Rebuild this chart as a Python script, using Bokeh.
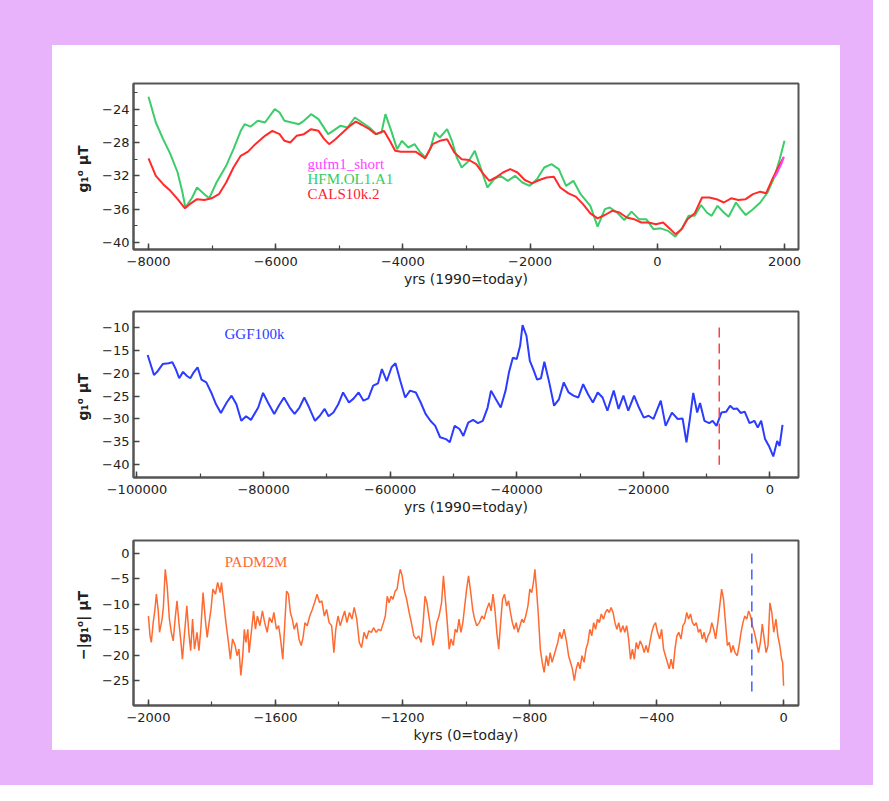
from bokeh.plotting import figure
from bokeh.models import Range1d, SingleIntervalTicker, CustomJSTickFormatter, Spacer, ColumnDataSource
from bokeh.layouts import column, row
from bokeh.embed import file_html
from bokeh.resources import INLINE
from bokeh.core.properties import value

# ---------------- data: panel 1 (years, g1^0 in microtesla) ----------------
hfm_year = [-8000, -7885, -7770, -7656, -7542, -7466, -7420, -7313, -7237, -7122, -7046, -6931, -6779, -6664,
            -6550, -6489, -6397, -6282, -6168, -6015, -5939, -5863, -5748, -5634, -5557, -5443, -5328, -5176,
            -5099, -4985, -4870, -4756, -4641, -4527, -4412, -4336, -4275, -4183, -4092, -4015, -3916, -3817,
            -3725, -3649, -3572, -3496, -3420, -3305, -3229, -3153, -3076, -2962, -2870, -2771, -2672, -2565,
            -2465, -2351, -2237, -2122, -2007, -1893, -1778, -1664, -1549, -1435, -1320, -1206, -1053, -939,
            -824, -748, -633, -519, -405, -290, -175, -61, 54, 168, 283, 397, 489, 588, 688, 779, 855, 947,
            1046, 1122, 1237, 1313, 1390, 1504, 1619, 1733, 1848, 1924, 2000]
hfm_g10 = [-22.5, -25.6, -27.6, -29.4, -31.6, -34.0, -35.8, -34.6, -33.4, -34.2, -34.7, -32.8, -30.8, -28.8,
           -26.6, -25.8, -26.1, -25.4, -25.6, -24.0, -24.4, -25.4, -25.6, -25.8, -25.4, -24.6, -25.2, -27.0,
           -26.6, -26.0, -26.2, -25.0, -25.6, -26.2, -27.0, -26.8, -24.6, -26.6, -28.8, -27.8, -28.6, -28.2,
           -29.2, -29.8, -28.8, -26.8, -27.4, -26.4, -27.8, -29.8, -31.0, -30.2, -29.0, -31.2, -33.4, -32.4,
           -32.0, -32.6, -32.0, -32.8, -33.2, -32.4, -31.0, -30.6, -31.2, -33.2, -32.6, -34.2, -35.6, -38.1,
           -36.0, -35.8, -36.4, -37.3, -36.3, -37.2, -37.2, -38.4, -38.3, -38.6, -39.3, -38.2, -36.8, -36.8,
           -35.5, -36.4, -36.8, -35.6, -36.4, -36.9, -35.2, -36.0, -36.7, -36.0, -35.2, -34.0, -32.0, -30.0,
           -27.8]

cals_year = [-8000, -7885, -7770, -7656, -7542, -7427, -7351, -7237, -7122, -7008, -6893, -6779, -6664, -6550,
             -6435, -6321, -6168, -6053, -5939, -5863, -5771, -5672, -5557, -5443, -5328, -5237, -5160, -5061,
             -4947, -4832, -4740, -4641, -4527, -4427, -4298, -4206, -4122, -4030, -3916, -3801, -3649, -3534,
             -3420, -3305, -3191, -3076, -2962, -2847, -2733, -2641, -2542, -2427, -2313, -2198, -2084, -1969,
             -1855, -1740, -1626, -1527, -1397, -1282, -1168, -1053, -939, -824, -710, -595, -481, -366, -252,
             -137, -23, 92, 206, 283, 382, 474, 588, 703, 817, 932, 1046, 1161, 1275, 1390, 1504, 1619, 1710,
             1809, 1886, 1985]
cals_g10 = [-29.9, -32.0, -33.0, -33.8, -34.8, -35.9, -35.4, -34.8, -34.9, -34.7, -34.2, -32.8, -31.0, -29.6,
            -29.1, -28.2, -27.2, -26.6, -27.0, -27.8, -28.0, -27.2, -27.0, -26.4, -26.6, -27.6, -28.2, -27.6,
            -26.8, -26.0, -25.5, -25.9, -26.4, -27.0, -26.6, -27.8, -29.0, -29.1, -29.1, -29.1, -29.9, -28.2,
            -27.8, -27.6, -29.2, -30.0, -30.1, -30.6, -31.8, -32.6, -32.2, -31.6, -31.2, -31.6, -32.5, -32.9,
            -32.5, -32.2, -32.1, -33.4, -34.1, -34.5, -35.4, -36.5, -37.1, -36.7, -36.2, -36.4, -37.0, -37.2,
            -37.6, -37.6, -37.8, -37.6, -38.4, -39.0, -38.4, -37.2, -36.5, -34.6, -34.6, -34.8, -35.2, -34.7,
            -34.9, -34.8, -34.2, -33.9, -34.1, -32.4, -31.2, -29.8]

gufm_year = [1840, 1880, 1910, 1950, 1990]
gufm_g10 = [-32.2, -31.7, -31.2, -30.6, -29.7]

# ---------------- data: panel 2 (GGF100k) ----------------
ggf_year = [-98314, -97700, -97318, -96700, -95939, -95019, -94406, -93870, -93333, -92720, -92107, -91571,
            -91034, -90421, -89808, -89042, -88276, -87510, -86743, -85824, -85057, -84291, -83525, -82759,
            -81992, -80843, -80077, -79310, -78314, -77548, -76782, -75862, -75096, -74330, -73563, -72797,
            -71877, -71111, -70345, -69732, -68966, -68199, -67433, -66513, -65747, -64981, -64215, -63448,
            -62682, -61916, -61303, -60536, -59770, -59157, -58390, -57624, -56858, -55939, -55172, -54406,
            -53640, -52874, -52107, -51188, -50575, -49809, -49042, -48429, -47663, -46897, -46130, -45364,
            -44598, -44061, -43295, -42529, -41762, -41226, -40613, -40000, -39464, -39081, -38467, -37931,
            -37395, -36782, -36169, -35633, -34866, -34100, -33334, -32567, -31801, -31035, -30268, -29502,
            -28736, -27970, -27203, -26437, -25671, -24675, -23908, -23142, -22376, -21456, -20690, -19924,
            -19157, -18391, -17241, -16475, -15479, -14559, -13793, -13180, -12644, -12107, -11494, -11034,
            -10345, -9579, -9042, -8429, -7663, -6897, -6284, -5747, -5211, -4598, -3985, -3218, -2452, -1916,
            -1379, -766, -153, 537, 1150, 1533, 2000]
ggf_g10 = [-16.0, -18.7, -20.4, -19.5, -18.0, -17.8, -17.6, -19.1, -21.1, -19.7, -20.6, -21.1,
           -19.8, -18.7, -21.4, -22.0, -24.2, -26.8, -28.7, -26.4, -24.9, -26.8, -30.4, -29.4,
           -30.2, -27.5, -24.3, -26.4, -28.9, -27.0, -25.3, -27.5, -28.9, -27.5, -25.3, -27.5,
           -30.4, -29.3, -27.8, -29.4, -28.6, -26.8, -24.2, -26.4, -25.5, -24.2, -26.0, -25.5,
           -22.7, -22.2, -19.1, -21.7, -18.7, -17.8, -21.7, -25.3, -23.8, -24.2, -26.4, -28.9,
           -30.4, -31.5, -34.0, -34.4, -35.1, -31.5, -32.2, -33.7, -30.8, -30.2, -30.9, -30.4,
           -27.5, -23.8, -25.7, -27.5, -23.8, -19.8, -16.6, -16.9, -14.0, -9.5, -11.8, -17.3,
           -19.1, -21.4, -21.1, -17.5, -22.0, -27.1, -25.7, -22.0, -24.2, -24.9, -25.3, -22.4,
           -24.6, -26.4, -24.2, -25.3, -28.2, -23.8, -27.8, -24.9, -28.2, -24.9, -27.5, -29.7,
           -29.3, -30.0, -26.0, -31.5, -28.6, -30.0, -29.9, -35.1, -30.0, -24.3, -28.6, -26.5,
           -30.4, -30.9, -30.4, -31.5, -28.6, -28.4, -27.1, -27.8, -27.7, -28.7, -28.4, -30.9, -30.4, -31.9,
           -30.4, -34.4, -35.9, -38.2, -34.8, -35.9, -31.3]

# ---------------- data: panel 3 (PADM2M, kyr) ----------------
padm_kyr = [-2000, -1995, -1991, -1985, -1980, -1975, -1969, -1965, -1957, -1953, -1947, -1941, -1934, -1928,
            -1922, -1916, -1910, -1904, -1898, -1893, -1887, -1879, -1873, -1867, -1861, -1855, -1847, -1841,
            -1835, -1828, -1821, -1815, -1809, -1803, -1797, -1789, -1782, -1774, -1770, -1764, -1756, -1748,
            -1742, -1735, -1727, -1721, -1715, -1709, -1703, -1698, -1693, -1687, -1683, -1675, -1669, -1663,
            -1657, -1649, -1641, -1634, -1626, -1619, -1611, -1605, -1597, -1590, -1584, -1577, -1571, -1565,
            -1559, -1553, -1547, -1541, -1533, -1526, -1519, -1513, -1507, -1500, -1492, -1484, -1477, -1469,
            -1461, -1454, -1446, -1439, -1431, -1423, -1416, -1410, -1403, -1396, -1390, -1382, -1375, -1367,
            -1359, -1352, -1344, -1336, -1329, -1321, -1313, -1306, -1298, -1291, -1283, -1275, -1268, -1260,
            -1254, -1248, -1242, -1236, -1230, -1223, -1217, -1211, -1207, -1201, -1195, -1187, -1179, -1172,
            -1164, -1156, -1149, -1141, -1135, -1129, -1123, -1117, -1111, -1104, -1098, -1092, -1085, -1077,
            -1071, -1065, -1059, -1053, -1047, -1040, -1034, -1028, -1022, -1016, -1010, -1004, -998, -992,
            -985, -979, -973, -966, -958, -950, -943, -935, -927, -921, -915, -909, -903, -897, -891, -885,
            -879, -872, -866, -860, -854, -848, -842, -836, -830, -824, -818, -812, -805, -799, -793, -787,
            -783, -778, -772, -766, -760, -754, -747, -741, -735, -729, -723, -717, -711, -705, -699, -691,
            -683, -677, -671, -665, -659, -653, -647, -641, -635, -628, -622, -616, -610, -604, -598, -592,
            -586, -580, -574, -567, -561, -555, -549, -543, -537, -531, -525, -519, -513, -506, -500, -494,
            -488, -482, -476, -470, -464, -458, -452, -445, -439, -433, -427, -421, -415, -409, -403, -397,
            -390, -384, -378, -372, -366, -360, -354, -348, -342, -336, -330, -323, -317, -311, -305, -299,
            -293, -287, -281, -275, -268, -262, -256, -250, -244, -238, -232, -226, -220, -214, -207, -201,
            -195, -189, -183, -177, -171, -165, -159, -153, -146, -140, -134, -128, -122, -116, -110, -104,
            -98, -92, -85, -79, -73, -67, -61, -55, -49, -43, -37, -31, -24, -18, -12, -6, -3, 0]
padm_g10 = [-12.3, -16.2, -17.5, -13.6, -11.3, -8.0, -11.3, -15.5, -12.9, -10.6, -3.1, -6.4, -12.9, -15.5,
            -17.2, -12.9, -9.3, -13.6, -17.2, -20.8, -16.2, -10.3, -15.5, -19.1, -12.9, -18.8, -15.5, -19.1,
            -14.9, -7.7, -12.9, -16.5, -13.6, -11.0, -7.0, -8.0, -5.7, -7.7, -5.7, -9.0, -13.6, -17.5,
            -20.8, -16.8, -18.1, -20.1, -18.8, -24.0, -20.1, -14.9, -17.5, -14.9, -19.5, -14.9, -11.3, -14.9,
            -12.3, -14.2, -11.3, -13.6, -15.5, -12.6, -13.6, -11.6, -14.9, -14.2, -16.8, -20.8, -14.2, -7.4,
            -8.0, -11.6, -12.9, -14.9, -13.6, -16.8, -18.1, -16.5, -13.6, -14.2, -12.3, -11.0, -9.7, -8.0,
            -9.7, -9.3, -12.3, -11.0, -13.6, -14.2, -19.5, -14.9, -12.3, -14.2, -12.9, -11.3, -13.6, -11.6,
            -12.9, -10.6, -12.9, -17.5, -18.5, -15.5, -16.8, -15.2, -15.5, -14.6, -15.5, -14.9, -15.2, -13.6,
            -12.3, -8.4, -9.7, -8.4, -9.0, -7.4, -7.0, -4.4, -3.1, -4.4, -7.0, -9.0, -11.6, -13.6,
            -16.2, -16.8, -16.2, -17.5, -13.6, -8.4, -9.7, -12.3, -14.9, -18.1, -16.2, -13.6, -12.3, -9.7,
            -4.4, -9.0, -13.6, -18.8, -16.8, -18.1, -14.9, -15.5, -12.9, -15.5, -13.6, -10.3, -7.0, -4.4,
            -7.7, -11.0, -12.9, -14.2, -13.6, -12.3, -12.9, -11.0, -9.7, -11.3, -8.0, -11.0, -15.5, -18.8, -13.6, -9.0,
            -8.0, -10.3, -9.3, -11.6, -13.6, -14.9, -13.6, -15.5, -14.2, -12.9, -13.6, -12.3, -10.3, -7.0, -7.7, -5.4,
            -3.1, -7.0, -12.3, -18.8, -21.4, -23.4, -20.1, -22.1, -19.5, -21.4, -20.1, -18.8, -17.5, -15.5, -16.8, -14.9,
            -17.5, -20.1, -21.4, -22.7, -25.0, -22.7, -21.4, -22.7, -20.1, -21.4, -18.8, -17.5, -14.9, -16.2, -13.6, -14.9,
            -12.9, -13.6, -11.9, -12.9, -11.6, -11.0, -11.6, -10.6, -11.6, -13.6, -14.9, -13.6, -15.5, -14.2, -15.5, -14.2,
            -16.8, -20.8, -18.8, -20.8, -17.5, -18.8, -17.2, -18.1, -19.5, -18.1, -19.5, -17.5, -15.5, -14.2, -13.6, -15.5,
            -16.8, -14.9, -18.8, -20.1, -21.4, -22.7, -20.8, -22.7, -18.8, -16.2, -15.5, -16.8, -14.2, -13.6, -11.6, -12.9,
            -11.9, -13.6, -14.2, -13.6, -15.5, -14.9, -16.8, -15.5, -17.5, -16.2, -15.5, -13.6, -14.9, -16.8, -13.6, -10.3,
            -7.0, -9.0, -13.6, -18.1, -17.5, -19.5, -18.1, -19.5, -20.1, -18.1, -15.5, -13.6, -12.3, -12.9, -11.3, -12.3,
            -14.2, -15.5, -17.5, -19.5, -17.5, -13.9, -16.8, -19.5, -18.1, -9.7, -11.6, -15.5, -12.9, -16.2, -18.1, -20.8, -21.4, -26.0]

# reference markers (dashed lines) and labels
ggf_mark_x = [-8000, -8000]
ggf_mark_y = [-10, -40]
padm_mark_x = [-100, -100]
padm_mark_y = [0, -27.6]

top_labels = ["gufm1_short", "HFM.OL1.A1", "CALS10k.2"]
top_label_x = [-5500, -5500, -5500]
top_label_y = [-30.6, -32.35, -34.15]
top_label_colors = ["#ff44ff", "#33cc66", "#ff2233"]

C_GREEN = "#3ccd6a"
C_RED = "#ff2a2a"
C_MAG = "#ff40ff"
C_BLUE = "#2b3cff"
C_ORANGE = "#ff6a30"

MINUS_FMT = "return tick < 0 ? '\u2212' + Math.abs(tick) : String(tick);"
FONT = "DejaVu Sans"


def make_fig(height, top, xr, yr, xint, yint, yminor, xlabel, ylabel):
    p = figure(width=788, height=height, output_backend="svg", toolbar_location=None,
               x_range=Range1d(*xr), y_range=Range1d(*yr),
               min_border_left=81, min_border_right=42, min_border_top=top, min_border_bottom=45)
    p.background_fill_color = "white"
    p.border_fill_color = "white"
    p.outline_line_color = "#555555"
    p.outline_line_width = 2
    p.grid.visible = False
    p.xaxis.ticker = SingleIntervalTicker(interval=xint, num_minor_ticks=2)
    p.yaxis.ticker = SingleIntervalTicker(interval=yint, num_minor_ticks=yminor)
    for ax in (p.xaxis[0], p.yaxis[0]):
        ax.formatter = CustomJSTickFormatter(code=MINUS_FMT)
        ax.axis_line_color = "#555555"
        ax.axis_line_width = 2
        ax.major_tick_in = 6
        ax.major_tick_out = 0
        ax.minor_tick_in = 4
        ax.minor_tick_out = 0
        ax.major_tick_line_color = "#444444"
        ax.minor_tick_line_color = "#444444"
        ax.major_tick_line_width = 1.5
        ax.minor_tick_line_width = 1.2
        ax.major_label_text_font = FONT
        ax.major_label_text_font_size = "13px"
        ax.major_label_text_color = "#222222"
        ax.axis_label_text_font = FONT
        ax.axis_label_text_font_size = "14px"
        ax.axis_label_text_font_style = "normal"
        ax.axis_label_text_color = "#222222"
    if yminor == 0:
        p.yaxis.minor_tick_line_color = None
    p.xaxis.major_label_standoff = 7
    p.xaxis.axis_label_standoff = 2
    p.yaxis.major_label_standoff = 4
    p.yaxis.axis_label_standoff = 8
    p.xaxis.axis_label = xlabel
    p.yaxis.axis_label = ylabel
    p.yaxis.axis_label_text_font_style = "bold"
    return p


# Panel 1
p1 = make_fig(249, 38, (-8236, 2220), (-40.84, -20.92), 2000, 4, 2,
              "yrs (1990=today)", "g\u2081\u2070  \u03bcT")
p1.line(hfm_year, hfm_g10, line_color=C_GREEN, line_width=2)
p1.line(cals_year, cals_g10, line_color=C_RED, line_width=2)
p1.line(gufm_year, gufm_g10, line_color=C_MAG, line_width=2)
src1 = ColumnDataSource(dict(x=top_label_x, y=top_label_y, t=top_labels, c=top_label_colors))
p1.text(x="x", y="y", text="t", text_color="c", source=src1, text_font=value("Liberation Serif"),
        text_font_size="15px", text_baseline="middle", text_align="left")

# Panel 2
p2 = make_fig(228, 17, (-100550, 4520), (-42.8, -6.5), 20000, 5, 0,
              "yrs (1990=today)", "g\u2081\u2070  \u03bcT")
p2.line(ggf_year, ggf_g10, line_color=C_BLUE, line_width=2)
p2.line(ggf_mark_x, ggf_mark_y, line_color="#ff4040", line_width=1.5, line_dash="10 6")
p2.text(x=[-86175], y=[-11.5], text=["GGF100k"], text_color=C_BLUE, text_font=value("Liberation Serif"),
        text_font_size="15px", text_baseline="middle", text_align="left")

# Panel 3
p3 = make_fig(228, 18, (-2047, 47), (-29.9, 2.56), 400, 5, 0,
              "kyrs (0=today)", "\u2212|g\u2081\u2070|  \u03bcT")
p3.line(padm_kyr, padm_g10, line_color=C_ORANGE, line_width=1.5)
p3.line(padm_mark_x, padm_mark_y, line_color="#4060ff", line_width=1.5, line_dash="10 6")
p3.text(x=[-1760], y=[-1.6], text=["PADM2M"], text_color=C_ORANGE, text_font=value("Liberation Serif"),
        text_font_size="15px", text_baseline="middle", text_align="left")

LAV = "#e9b3fb"
bg = {"background-color": LAV}
inner = column(p1, p2, p3, spacing=0, styles={"background-color": "white"})
layout = column(
    Spacer(width=873, height=45, styles=bg),
    row(Spacer(width=52, height=705, styles=bg), inner, Spacer(width=33, height=705, styles=bg), spacing=0),
    Spacer(width=873, height=35, styles=bg),
    spacing=0, styles=bg,
)

open("out.html", "w").write(file_html(layout, INLINE))
